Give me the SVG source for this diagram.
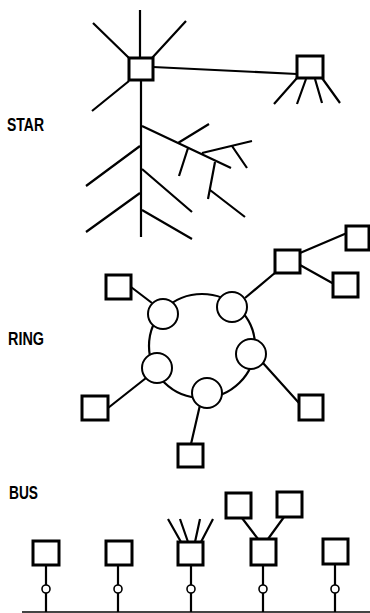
<svg xmlns="http://www.w3.org/2000/svg" width="370" height="613" viewBox="0 0 370 613">
<style>
.ln{stroke:#000;stroke-width:2.2;fill:none;stroke-linecap:butt}
.bus{stroke:#444;stroke-width:2;fill:none}
.sq{stroke:#000;stroke-width:3;fill:#fff}
.ci{stroke:#000;stroke-width:2;fill:#fff}
.tap{stroke:#000;stroke-width:1.6;fill:#fff}
.lbl{font-family:"Liberation Sans Narrow","Liberation Sans",Arial,sans-serif;font-weight:bold;font-size:19px;fill:#000}
</style>
<rect width="370" height="613" fill="#fff"/>
<g id="labels">
<text class="lbl" x="7" y="131" textLength="37" lengthAdjust="spacingAndGlyphs">STAR</text>
<text class="lbl" x="8" y="345" textLength="36" lengthAdjust="spacingAndGlyphs">RING</text>
<text class="lbl" x="9" y="499" textLength="29" lengthAdjust="spacingAndGlyphs">BUS</text>
</g>
<g id="connectors">
<path class="ln" d="M140,10V58 M141,80V237 M93,23L129,58 M186,21L152,58 M92,111L129,81 M153,67L297,74"/>
<path class="ln" d="M297,78L274,104 M306,79L297,104 M315,79L322,103 M322,78L340,103"/>
<path class="ln" d="M142,126L231,168 M178,143L209,124 M188,148L179,176 M202,153L252,141 M232,146L247,168 M215,162L208,199 M210,190L245,217"/>
<path class="ln" d="M140,146L86,186 M140,193L86,232 M142,169L192,212 M142,210L192,239"/>
<ellipse cx="202" cy="346" rx="53" ry="52" class="ln"/>
<path class="ln" d="M131,287L152,303 M108,408L146,378 M200,405L191,444 M263,363L299,403 M245,298L276,272 M300,253L347,233 M300,265L334,284"/>
<path class="bus" d="M22,612H370"/>
<path class="ln" d="M46,565V612 M118,565V612 M191,565V612 M263,565V612 M335,564V612"/>
<path class="ln" d="M181,542L168,519 M188,542L180,519 M195,542L200,519 M201,542L213,519 M258,539L242,518 M268,539L284,517"/>
</g>
<g id="star-hub"><rect class="sq" x="129" y="58" width="24" height="22"/></g>
<g id="star-remote"><rect class="sq" x="297" y="56" width="26" height="22"/></g>
<g id="ring-c1"><circle class="ci" cx="163" cy="314" r="15"/></g>
<g id="ring-c2"><circle class="ci" cx="232" cy="307" r="15"/></g>
<g id="ring-c3"><circle class="ci" cx="251" cy="354" r="15"/></g>
<g id="ring-c4"><circle class="ci" cx="207" cy="393" r="15"/></g>
<g id="ring-c5"><circle class="ci" cx="157" cy="368" r="15"/></g>
<g id="ring-s1"><rect class="sq" x="106" y="275" width="25" height="24"/></g>
<g id="ring-s2"><rect class="sq" x="82" y="396" width="26" height="24"/></g>
<g id="ring-s3"><rect class="sq" x="178" y="444" width="25" height="23"/></g>
<g id="ring-s4"><rect class="sq" x="299" y="395" width="24" height="25"/></g>
<g id="ring-s5"><rect class="sq" x="275" y="250" width="25" height="23"/></g>
<g id="ring-s6"><rect class="sq" x="346" y="226" width="23" height="24"/></g>
<g id="ring-s7"><rect class="sq" x="333" y="273" width="25" height="24"/></g>
<g id="bus-s1"><rect class="sq" x="33" y="541" width="26" height="24"/></g>
<g id="bus-s2"><rect class="sq" x="106" y="541" width="26" height="24"/></g>
<g id="bus-s3"><rect class="sq" x="178" y="542" width="25" height="23"/></g>
<g id="bus-s4"><rect class="sq" x="251" y="539" width="25" height="26"/></g>
<g id="bus-s4a"><rect class="sq" x="226" y="493" width="25" height="25"/></g>
<g id="bus-s4b"><rect class="sq" x="277" y="492" width="25" height="25"/></g>
<g id="bus-s5"><rect class="sq" x="323" y="539" width="25" height="25"/></g>
<g id="bus-taps">
<circle class="tap" cx="46" cy="589" r="4"/>
<circle class="tap" cx="118" cy="589" r="4"/>
<circle class="tap" cx="191" cy="589" r="4"/>
<circle class="tap" cx="263" cy="589" r="4"/>
<circle class="tap" cx="335" cy="589" r="4"/>
</g>
</svg>
